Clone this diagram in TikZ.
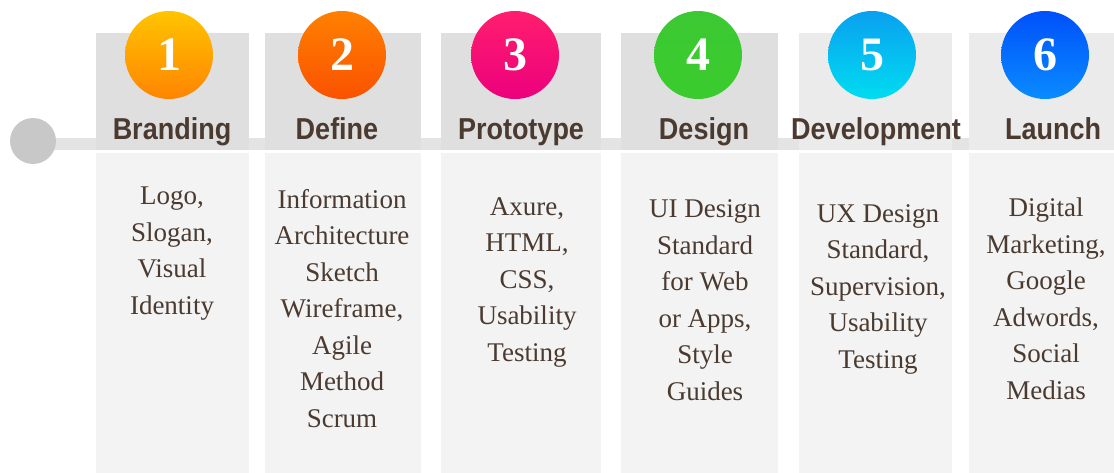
\documentclass[tikz,border=0pt]{standalone}
\usepackage{fontspec}
\setmainfont{Liberation Serif}
\setsansfont{Liberation Sans}
\usetikzlibrary{positioning}

\definecolor{ink}{HTML}{4A3A30}
\definecolor{hdrgray}{HTML}{DFDFDF}
\definecolor{hdrlight}{HTML}{EBEBEB}
\definecolor{bodygray}{HTML}{F3F3F3}
\definecolor{railgray}{HTML}{E4E4E4}
\definecolor{dotgray}{HTML}{C8C8C8}

\begin{document}
\begin{tikzpicture}[x=1pt,y=-1pt]
  \tikzset{head/.style={fill=#1,draw=none,minimum height=117,inner sep=0,anchor=north west},
    body/.style={fill=bodygray,draw=none,minimum height=321,inner sep=0,anchor=north west},
    step circle/.style={circle,minimum size=88,inner sep=0,text=white,
      font=\bfseries\fontsize{48}{48}\selectfont,shading angle=#1},
    step label/.style={anchor=base,text=ink,inner sep=0,
      font=\sffamily\bfseries\fontsize{27}{30}\selectfont},
    step text/.style={anchor=base,align=center,text=ink,inner sep=0,
      font=\fontsize{27}{36.5}\selectfont}}
  \useasboundingbox (0,0) rectangle (1114,473);

  % rail
  \fill[railgray] (34,138) rectangle (1114,150);
  \node[circle,fill=dotgray,minimum size=46,inner sep=0] (start) at (33,141) {};

  % columns
  \node[head=hdrgray,minimum width=153] (hBrand) at (96,33) {};
  \node[head=hdrgray,minimum width=156] (hDefine) at (265,33) {};
  \node[head=hdrgray,minimum width=160] (hProto) at (441,33) {};
  \node[head=hdrgray,minimum width=157] (hDesign) at (621,33) {};
  \node[head=hdrlight,minimum width=153] (hDevel) at (799,33) {};
  \node[head=hdrlight,minimum width=145] (hLaunch) at (969,33) {};

  \node[body,minimum width=153] (bBrand) at (96,153) {};
  \node[body,minimum width=156] (bDefine) at (265,153) {};
  \node[body,minimum width=160] (bProto) at (441,153) {};
  \node[body,minimum width=157] (bDesign) at (621,153) {};
  \node[body,minimum width=153] (bDevel) at (799,153) {};
  \node[body,minimum width=145] (bLaunch) at (969,153) {};

  % numbered circles
  \node[step circle=-30,top color={rgb,255:red,255;green,196;blue,0},bottom color={rgb,255:red,255;green,132;blue,0}] (n1) at (169,55) {1};
  \node[step circle=-30,top color={rgb,255:red,255;green,128;blue,0},bottom color={rgb,255:red,250;green,82;blue,0}] (n2) at (342,55) {2};
  \node[step circle=-30,top color={rgb,255:red,255;green,30;blue,110},bottom color={rgb,255:red,236;green,0;blue,125}] (n3) at (515,55) {3};
  \node[step circle=0,top color={rgb,255:red,60;green,200;blue,50},bottom color={rgb,255:red,58;green,204;blue,46}] (n4) at (698,55) {4};
  \node[step circle=0,top color={rgb,255:red,10;green,160;blue,240},bottom color={rgb,255:red,0;green,220;blue,240}] (n5) at (872,55) {5};
  \node[step circle=0,top color={rgb,255:red,0;green,80;blue,250},bottom color={rgb,255:red,10;green,140;blue,255}] (n6) at (1045,55) {6};

  % titles
  \node[step label] (lBrand) at (172,140) {\scalebox{1}[1.12]{Branding}};
  \node[step label] (lDefine) at (337,140) {\scalebox{1}[1.12]{Define}};
  \node[step label] (lProto) at (521,140) {\scalebox{1}[1.12]{Prototype}};
  \node[step label] (lDesign) at (704,140) {\scalebox{1}[1.12]{Design}};
  \node[step label] (lDevel) at (876,140) {\scalebox{1}[1.12]{Development}};
  \node[step label] (lLaunch) at (1053,140) {\scalebox{1}[1.12]{Launch}};

  % details (base = last line)
  \node[step text] (tBrand) at (172,314) {Logo,\\Slogan,\\Visual\\Identity};
  \node[step text] (tDefine) at (342,427) {Information\\Architecture\\Sketch\\Wireframe,\\Agile\\Method\\Scrum};
  \node[step text] (tProto) at (527,361) {Axure,\\HTML,\\CSS,\\Usability\\Testing};
  \node[step text] (tDesign) at (705,400) {UI Design\\Standard\\for Web\\or Apps,\\Style\\Guides};
  \node[step text] (tDevel) at (878,368) {UX Design\\Standard,\\Supervision,\\Usability\\Testing};
  \node[step text] (tLaunch) at (1046,399) {Digital\\Marketing,\\Google\\Adwords,\\Social\\Medias};
\end{tikzpicture}
\end{document}
